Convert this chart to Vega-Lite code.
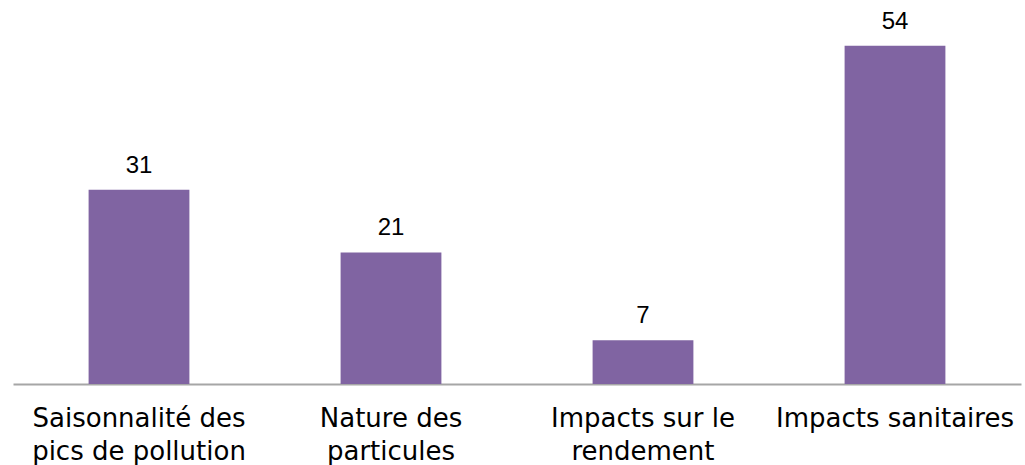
{
  "$schema": "https://vega.github.io/schema/vega-lite/v6.json",
  "autosize": "none",
  "width": 1008,
  "height": 384,
  "padding": {"left": 13, "top": 0, "right": 4, "bottom": 81},
  "background": "white",
  "data": {"values": [
    {"cat": "Saisonnalité des|pics de pollution", "value": 31},
    {"cat": "Nature des|particules", "value": 21},
    {"cat": "Impacts sur le|rendement", "value": 7},
    {"cat": "Impacts sanitaires", "value": 54}
  ]},
  "encoding": {
    "x": {"field": "cat", "type": "nominal", "sort": null,
      "scale": {"paddingInner": 0.6, "paddingOuter": 0.3},
      "axis": {"title": null, "labelAngle": 0, "ticks": false, "domainColor": "#a6a6a6", "domainWidth": 2,
        "labelExpr": "split(datum.label, '|')", "labelFont": "DejaVu Sans", "labelFontSize": 26, "labelLimit": 0,
        "labelColor": "#000000", "labelPadding": 34, "labelLineHeight": 33, "labelBaseline": "middle"}},
    "y": {"field": "value", "type": "quantitative", "scale": {"domain": [0, 61.3], "nice": false}, "axis": null}
  },
  "layer": [
    {"mark": {"type": "bar", "color": "#8064A2"}},
    {"mark": {"type": "text", "baseline": "alphabetic", "dy": -17, "font": "Liberation Sans", "fontSize": 24, "color": "#000000"},
     "encoding": {"text": {"field": "value", "type": "quantitative"}}}
  ],
  "config": {"view": {"stroke": null}}
}
